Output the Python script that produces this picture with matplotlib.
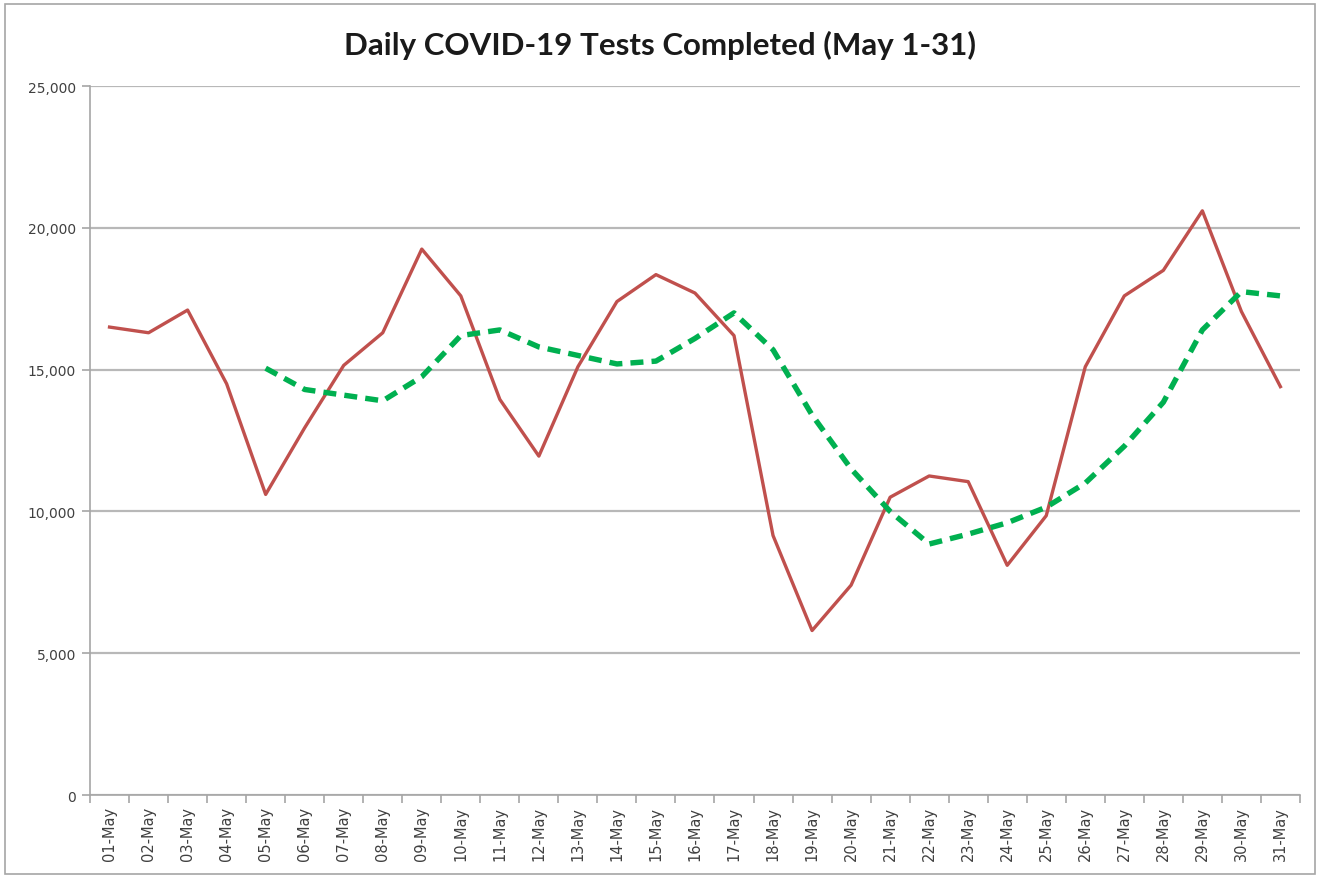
import matplotlib
matplotlib.use("Agg")
import matplotlib.pyplot as plt
import numpy as np
from matplotlib.patches import Rectangle

dates = [f"{d:02d}-May" for d in range(1, 32)]

daily_tests = [16500, 16300, 17100, 14500, 10600, 12950, 15150, 16300, 19250, 17600,
               13950, 11950, 15100, 17400, 18350, 17700, 16200, 9150, 5800, 7400,
               10500, 11250, 11050, 8100, 9850, 15100, 17600, 18500, 20600, 17050, 14400]

avg_tests = [np.nan, np.nan, np.nan, np.nan, 15050, 14300, 14100, 13900, 14750, 16200,
             16400, 15800, 15500, 15200, 15300, 16100, 17000, 15700, 13400, 11500,
             10000, 8850, 9200, 9600, 10150, 11000, 12300, 13850, 16400, 17750, 17600]

y_ticks = [0, 5000, 10000, 15000, 20000, 25000]
title = "Daily COVID-19 Tests Completed (May 1-31)"

fig = plt.figure(figsize=(13.2, 8.79), dpi=100)
fig.patch.set_facecolor("white")
fig.add_artist(Rectangle((0.004, 0.004), 0.992, 0.99, transform=fig.transFigure,
                         fill=False, edgecolor="#A6A6A6", linewidth=1.2))

ax = fig.add_axes([0.0682, 0.0944, 0.9166, 0.8066])
x = np.arange(len(dates))

ax.plot(x, daily_tests, color="#C0504D", linewidth=2.4, zorder=3)
ax.plot(x, avg_tests, color="#00B050", linewidth=3.9, linestyle=(0, (2.4, 1.5)), zorder=3)

ax.set_xlim(-0.5, len(dates) - 0.5)
ax.set_ylim(0, 25000)
ax.set_yticks(y_ticks)
ax.set_yticklabels([f"{v:,}" for v in y_ticks], fontsize=10, color="#404040")
ax.yaxis.grid(True, color="#B8B8B8", linewidth=1.6)
ax.set_axisbelow(True)

ax.set_xticks(x)
ax.set_xticklabels(dates, rotation=90, fontsize=10.5, color="#404040")
ax.set_xticks(np.arange(-0.5, len(dates), 1.0), minor=True)
ax.tick_params(axis="x", which="major", length=0, pad=8)
ax.tick_params(axis="x", which="minor", length=6, color="#A6A6A6", width=1.2)
ax.tick_params(axis="y", length=6, color="#A6A6A6", width=1.2, pad=4)

for side in ["top", "right"]:
    ax.spines[side].set_visible(False)
for side in ["left", "bottom"]:
    ax.spines[side].set_color("#A6A6A6")
    ax.spines[side].set_linewidth(1.2)

fig.text(0.5, 0.948, title, ha="center", va="center", fontsize=22.5, fontweight="bold",
         family=["Lato", "DejaVu Sans"], color="#1a1a1a")

fig.savefig("out.png", dpi=100, facecolor="white")
